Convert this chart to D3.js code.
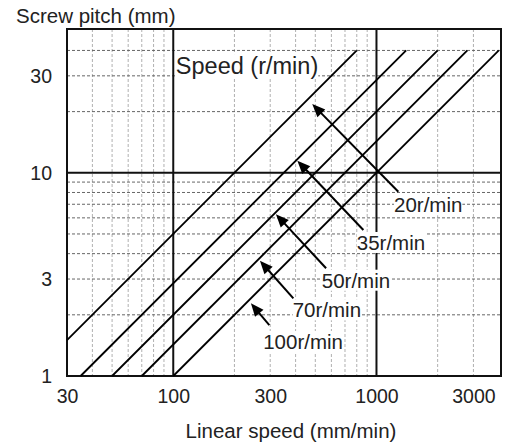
<!DOCTYPE html>
<html>
<head>
<meta charset="utf-8">
<script src="https://cdn.jsdelivr.net/npm/d3@7"></script>
<style>
  html, body { margin: 0; padding: 0; background: #fff; }
  svg { display: block; }
  text { font-family: "Liberation Sans", Arial, sans-serif; fill: #222; }
</style>
</head>
<body>
<svg id="chart" width="510" height="447"></svg>
<script>
// ---- data ----
const speeds = [20, 35, 50, 70, 100];                 // r/min
const lineStartLinear = [30, 35, 50, 70, 100];        // mm/min at lower end
const lineStartPitch  = [1.5, 1, 1, 1, 1];            // mm at lower end
const lineEndLinear   = [800, 1400, 2000, 2800, 4000];// mm/min at upper end
const lineEndPitch    = [40, 40, 40, 40, 40];         // mm at upper end

const speedLabels = ["20r/min", "35r/min", "50r/min", "70r/min", "100r/min"];
const labelLinear = [1220, 800, 538, 387, 277];
const labelPitch  = [6.39, 4.17, 2.72, 1.945, 1.358];
const arrowTailLinear = [1281, 862, 565, 390, 297];
const arrowTailPitch  = [8.07, 5.23, 3.39, 2.41, 1.78];
const arrowTipLinear  = [483, 408, 320, 267, 241];
const arrowTipPitch   = [21.8, 11.47, 6.25, 3.69, 2.28];

const xTicks = [30, 100, 300, 1000, 3000];
const yTicks = [1, 3, 10, 30];
const xMinorGrid = [40, 50, 60, 70, 80, 90, 200, 300, 400, 500, 600, 700, 800, 900, 2000, 3000];
const xMajorGrid = [100, 1000];
const yMinorGrid = [2, 3, 4, 5, 6, 7, 8, 9, 20, 30, 40];
const yMajorGrid = [10];

const xTitle = "Linear speed (mm/min)";
const yTitle = "Screw pitch (mm)";
const legendTitle = "Speed (r/min)";
const legendLinear = 103, legendPitch = 30.6;

// ---- layout ----
const L = 67, R = 501, T = 29, B = 376;
const svg = d3.select("#chart");
const x = d3.scaleLog().domain([30, 4100]).range([L, R]);
const y = d3.scaleLog().domain([1, 51]).range([B, T]);

const g = svg.append("g");

// minor grids
g.selectAll(".vgrid").data(xMinorGrid).join("line")
  .attr("x1", d => x(d)).attr("x2", d => x(d)).attr("y1", T).attr("y2", B)
  .attr("stroke", "#b0b0b0").attr("stroke-width", 1).attr("stroke-dasharray", "3,2");
g.selectAll(".hgrid").data(yMinorGrid).join("line")
  .attr("y1", d => y(d)).attr("y2", d => y(d)).attr("x1", L).attr("x2", R)
  .attr("stroke", "#666").attr("stroke-width", 1).attr("stroke-dasharray", "3,2");

// major grids
g.selectAll(".vmaj").data(xMajorGrid).join("line")
  .attr("x1", d => x(d)).attr("x2", d => x(d)).attr("y1", T).attr("y2", B)
  .attr("stroke", "#111").attr("stroke-width", 2);
g.selectAll(".hmaj").data(yMajorGrid).join("line")
  .attr("y1", d => y(d)).attr("y2", d => y(d)).attr("x1", L).attr("x2", R)
  .attr("stroke", "#111").attr("stroke-width", 2);

// frame
g.append("rect").attr("x", L).attr("y", T).attr("width", R - L).attr("height", B - T)
  .attr("fill", "none").attr("stroke", "#111").attr("stroke-width", 2);

// speed lines
const lines = speeds.map((s, i) => [[lineStartLinear[i], lineStartPitch[i]], [lineEndLinear[i], lineEndPitch[i]]]);
const lineGen = d3.line().x(d => x(d[0])).y(d => y(d[1]));
g.selectAll(".speed").data(lines).join("path")
  .attr("d", lineGen).attr("fill", "none").attr("stroke", "#000").attr("stroke-width", 1.8);

// arrow marker
svg.append("defs").append("marker")
  .attr("id", "ah").attr("viewBox", "0 -5 13 10").attr("refX", 13).attr("refY", 0)
  .attr("markerUnits", "userSpaceOnUse").attr("markerWidth", 13).attr("markerHeight", 10)
  .attr("orient", "auto")
  .append("path").attr("d", "M0,-5L13,0L0,5Z").attr("fill", "#000");

// labels with white background
function bgText(tx, ty, str, size) {
  const t = g.append("text").attr("x", tx).attr("y", ty).attr("font-size", size).text(str);
  const bb = t.node().getBBox();
  g.insert("rect", () => t.node())
    .attr("x", bb.x).attr("y", bb.y + 1).attr("width", bb.width).attr("height", bb.height - 2)
    .attr("fill", "#fff");
  return t;
}

speeds.forEach((s, i) => {
  bgText(x(labelLinear[i]), y(labelPitch[i]), speedLabels[i], 20.5);
});

speeds.forEach((s, i) => {
  const x1 = x(arrowTailLinear[i]), y1 = y(arrowTailPitch[i]);
  const x2 = x(arrowTipLinear[i]), y2 = y(arrowTipPitch[i]);
  const len = Math.hypot(x2 - x1, y2 - y1);
  const k = (len - 5) / len;
  g.append("line").attr("x1", x1).attr("y1", y1)
    .attr("x2", x1 + (x2 - x1) * k).attr("y2", y1 + (y2 - y1) * k)
    .attr("stroke", "#000").attr("stroke-width", 2);
  g.append("path")
    .attr("d", "M0,-5.5L13,0L0,5.5Z")
    .attr("fill", "#000")
    .attr("transform", `translate(${x2},${y2}) rotate(${Math.atan2(y2 - y1, x2 - x1) * 180 / Math.PI}) translate(-13,0)`);
});

bgText(x(legendLinear), y(legendPitch), legendTitle, 23.5);

// axes
const xAxis = d3.axisBottom(x).tickValues(xTicks).tickFormat(d3.format("d")).tickSize(0).tickPadding(13);
const yAxis = d3.axisLeft(y).tickValues(yTicks).tickFormat(d3.format("d")).tickSize(0).tickPadding(15);
const gx = svg.append("g").attr("transform", `translate(0,${B})`).call(xAxis);
const gy = svg.append("g").attr("transform", `translate(${L},0)`).call(yAxis);
[gx, gy].forEach(a => {
  a.select(".domain").remove();
  a.selectAll("text").attr("font-size", 19.5).attr("font-family", "Liberation Sans, Arial, sans-serif").attr("fill", "#222");
});

// titles
svg.append("text").attr("x", 291).attr("y", 438).attr("text-anchor", "middle")
  .attr("font-size", 20.5).text(xTitle);
svg.append("text").attr("x", 16).attr("y", 23).attr("font-size", 20.5).text(yTitle);
</script>
</body>
</html>
